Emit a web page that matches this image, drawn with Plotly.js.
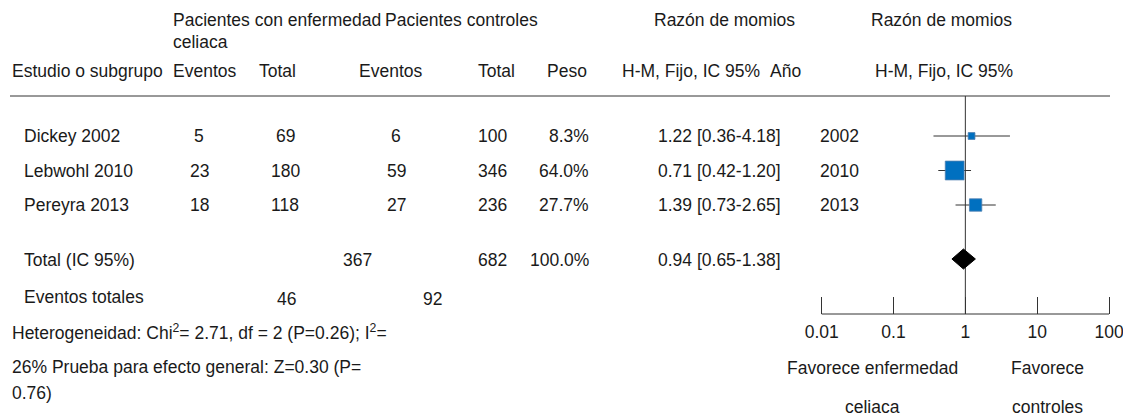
<!DOCTYPE html>
<html>
<head>
<meta charset="utf-8">
<script src="https://cdn.plot.ly/plotly-3.0.1.min.js"></script>
<style>html,body{margin:0;padding:0;background:#fff;}#chart{width:1123px;height:418px;}</style>
</head>
<body>
<div id="chart"></div>
<script>
// ---- data ----
const studies = ['Dickey 2002', 'Lebwohl 2010', 'Pereyra 2013'];
const eventsCeliac = [5, 23, 18];
const totalCeliac = [69, 180, 118];
const eventsControl = [6, 59, 27];
const totalControl = [100, 346, 236];
const weights = [8.3, 64.0, 27.7];
const oddsRatio = [1.22, 0.71, 1.39];
const ciLow = [0.36, 0.42, 0.73];
const ciHigh = [4.18, 1.20, 2.65];
const years = [2002, 2010, 2013];
const pooledOR = [0.94];
const pooledLow = [0.65];
const pooledHigh = [1.38];
const pooledTotals = [367, 682];
const pooledEvents = [46, 92];
const tickVals = [0.01, 0.1, 1, 10, 100];
const tickText = ['0.01', '0.1', '1', '10', '100'];

// ---- layout helpers (pixel positions) ----
const W = 1123, H = 418;
const FONT = 'Liberation Sans, Arial, Helvetica, sans-serif';
const FS = 17.5;
const TXT = '#1a1a1a';
const rowY = [136, 170.5, 205];
const totalY = 260;
const diamondY = 259;
const eventsY = 297;
const headY = 96;
const axisY = 314;
const fmt2 = v => v.toFixed(2);
const fmtCI = (o, l, h) => fmt2(o) + ' [' + fmt2(l) + '-' + fmt2(h) + ']';

const annotations = [];
function ann(text, x, y, xanchor) {
  annotations.push({text: text, x: x / W, xref: 'paper', y: y, yref: 'y',
    xanchor: xanchor || 'left', yanchor: 'middle', showarrow: false,
    font: {family: FONT, size: FS, color: TXT}});
}

// headers
ann('Pacientes con enfermedad', 171, 20);
ann('celiaca', 171, 42);
ann('Pacientes controles', 383, 20);
ann('Razón de momios', 652, 20);
ann('Razón de momios', 869, 20);
ann('Estudio o subgrupo', 10, 71);
ann('Eventos', 171, 71);
ann('Total', 257, 71);
ann('Eventos', 357, 71);
ann('Total', 476, 71);
ann('Peso', 545, 71);
ann('H-M, Fijo, IC 95%', 620, 71);
ann('Año', 768, 71);
ann('H-M, Fijo, IC 95%', 873, 71);

// study rows
studies.forEach((s, i) => {
  const y = rowY[i];
  ann(s, 22, y);
  ann(String(eventsCeliac[i]), 199, y, 'center');
  ann(String(totalCeliac[i]), 285, y, 'center');
  ann(String(eventsControl[i]), 396, y, 'center');
  ann(String(totalControl[i]), 492, y, 'center');
  ann(weights[i].toFixed(1) + '%', 591, y, 'right');
  ann(fmtCI(oddsRatio[i], ciLow[i], ciHigh[i]), 656, y);
  ann(String(years[i]), 818, y);
});

// totals
ann('Total (IC 95%)', 22, totalY);
ann(String(pooledTotals[0]), 357, totalY, 'center');
ann(String(pooledTotals[1]), 492, totalY, 'center');
ann(weights.reduce((a, b) => a + b, 0).toFixed(1) + '%', 591, totalY, 'right');
ann(fmtCI(pooledOR[0], pooledLow[0], pooledHigh[0]), 656, totalY);
ann('Eventos totales', 22, eventsY);
ann(String(pooledEvents[0]), 286, eventsY + 2, 'center');
ann(String(pooledEvents[1]), 432, eventsY + 2, 'center');
ann('Heterogeneidad: Chi<sup>2</sup>= 2.71, df = 2 (P=0.26); I<sup>2</sup>=', 10, 332);
ann('26% Prueba para efecto general: Z=0.30 (P=', 10, 367);
ann('0.76)', 10, 393);

// favours labels
ann('Favorece enfermedad', 872, 368, 'center');
ann('celiaca', 872, 407, 'center');
ann('Favorece', 1047, 368, 'center');
ann('controles', 1047, 407, 'center');

// ---- traces ----
const traces = [];
// line of no effect
traces.push({x: [1, 1], y: [headY, axisY], mode: 'lines', type: 'scatter',
  line: {color: '#333', width: 1}, hoverinfo: 'skip'});
// confidence intervals
studies.forEach((s, i) => {
  traces.push({x: [ciLow[i], ciHigh[i]], y: [rowY[i], rowY[i]], mode: 'lines', type: 'scatter',
    line: {color: '#333', width: 1}, hoverinfo: 'skip'});
});
// squares (size by weight)
traces.push({x: oddsRatio, y: rowY, mode: 'markers', type: 'scatter',
  marker: {symbol: 'square', color: '#0070c0', opacity: 1,
    size: weights.map(w => 2.35 * Math.sqrt(w)),
    line: {color: '#4f7fb0', width: 0.8}}, hoverinfo: 'skip'});
// pooled diamond
traces.push({x: [pooledLow[0], pooledOR[0], pooledHigh[0], pooledOR[0], pooledLow[0]],
  y: [diamondY, diamondY - 10, diamondY, diamondY + 10, diamondY], mode: 'lines', type: 'scatter',
  fill: 'toself', fillcolor: '#000', line: {color: '#000', width: 1}, hoverinfo: 'skip'});

const dec = (1109 - 821.7) / 4;
const pad = 0.02;
const layout = {
  width: W, height: H,
  margin: {l: 0, r: 0, t: 0, b: 0, pad: 0},
  paper_bgcolor: '#fff', plot_bgcolor: 'rgba(0,0,0,0)',
  showlegend: false,
  xaxis: {type: 'log', range: [-2 - pad, 2 + pad],
    domain: [(821.7 - pad * dec) / W, (1109 + pad * dec) / W],
    anchor: 'free', position: 1 - axisY / H,
    tickvals: tickVals, ticktext: tickText,
    ticks: 'inside', ticklen: 17, tickwidth: 1, tickcolor: '#333',
    showline: false, ticklabeloverflow: 'allow',
    showgrid: false, zeroline: false, ticklabelstandoff: 5,
    tickfont: {family: FONT, size: FS, color: TXT}, fixedrange: true},
  yaxis: {range: [H, 0], domain: [0, 1], visible: false, fixedrange: true},
  shapes: [
    {type: 'line', xref: 'paper', yref: 'y', x0: 10 / W, x1: 1110 / W,
      y0: headY, y1: headY, line: {color: '#333', width: 1}},
    {type: 'line', xref: 'paper', yref: 'y', x0: 821.7 / W, x1: 1109 / W,
      y0: axisY, y1: axisY, line: {color: '#333', width: 1}}
  ],
  annotations: annotations
};

Plotly.newPlot('chart', traces, layout, {staticPlot: true, displayModeBar: false});
</script>
</body>
</html>
